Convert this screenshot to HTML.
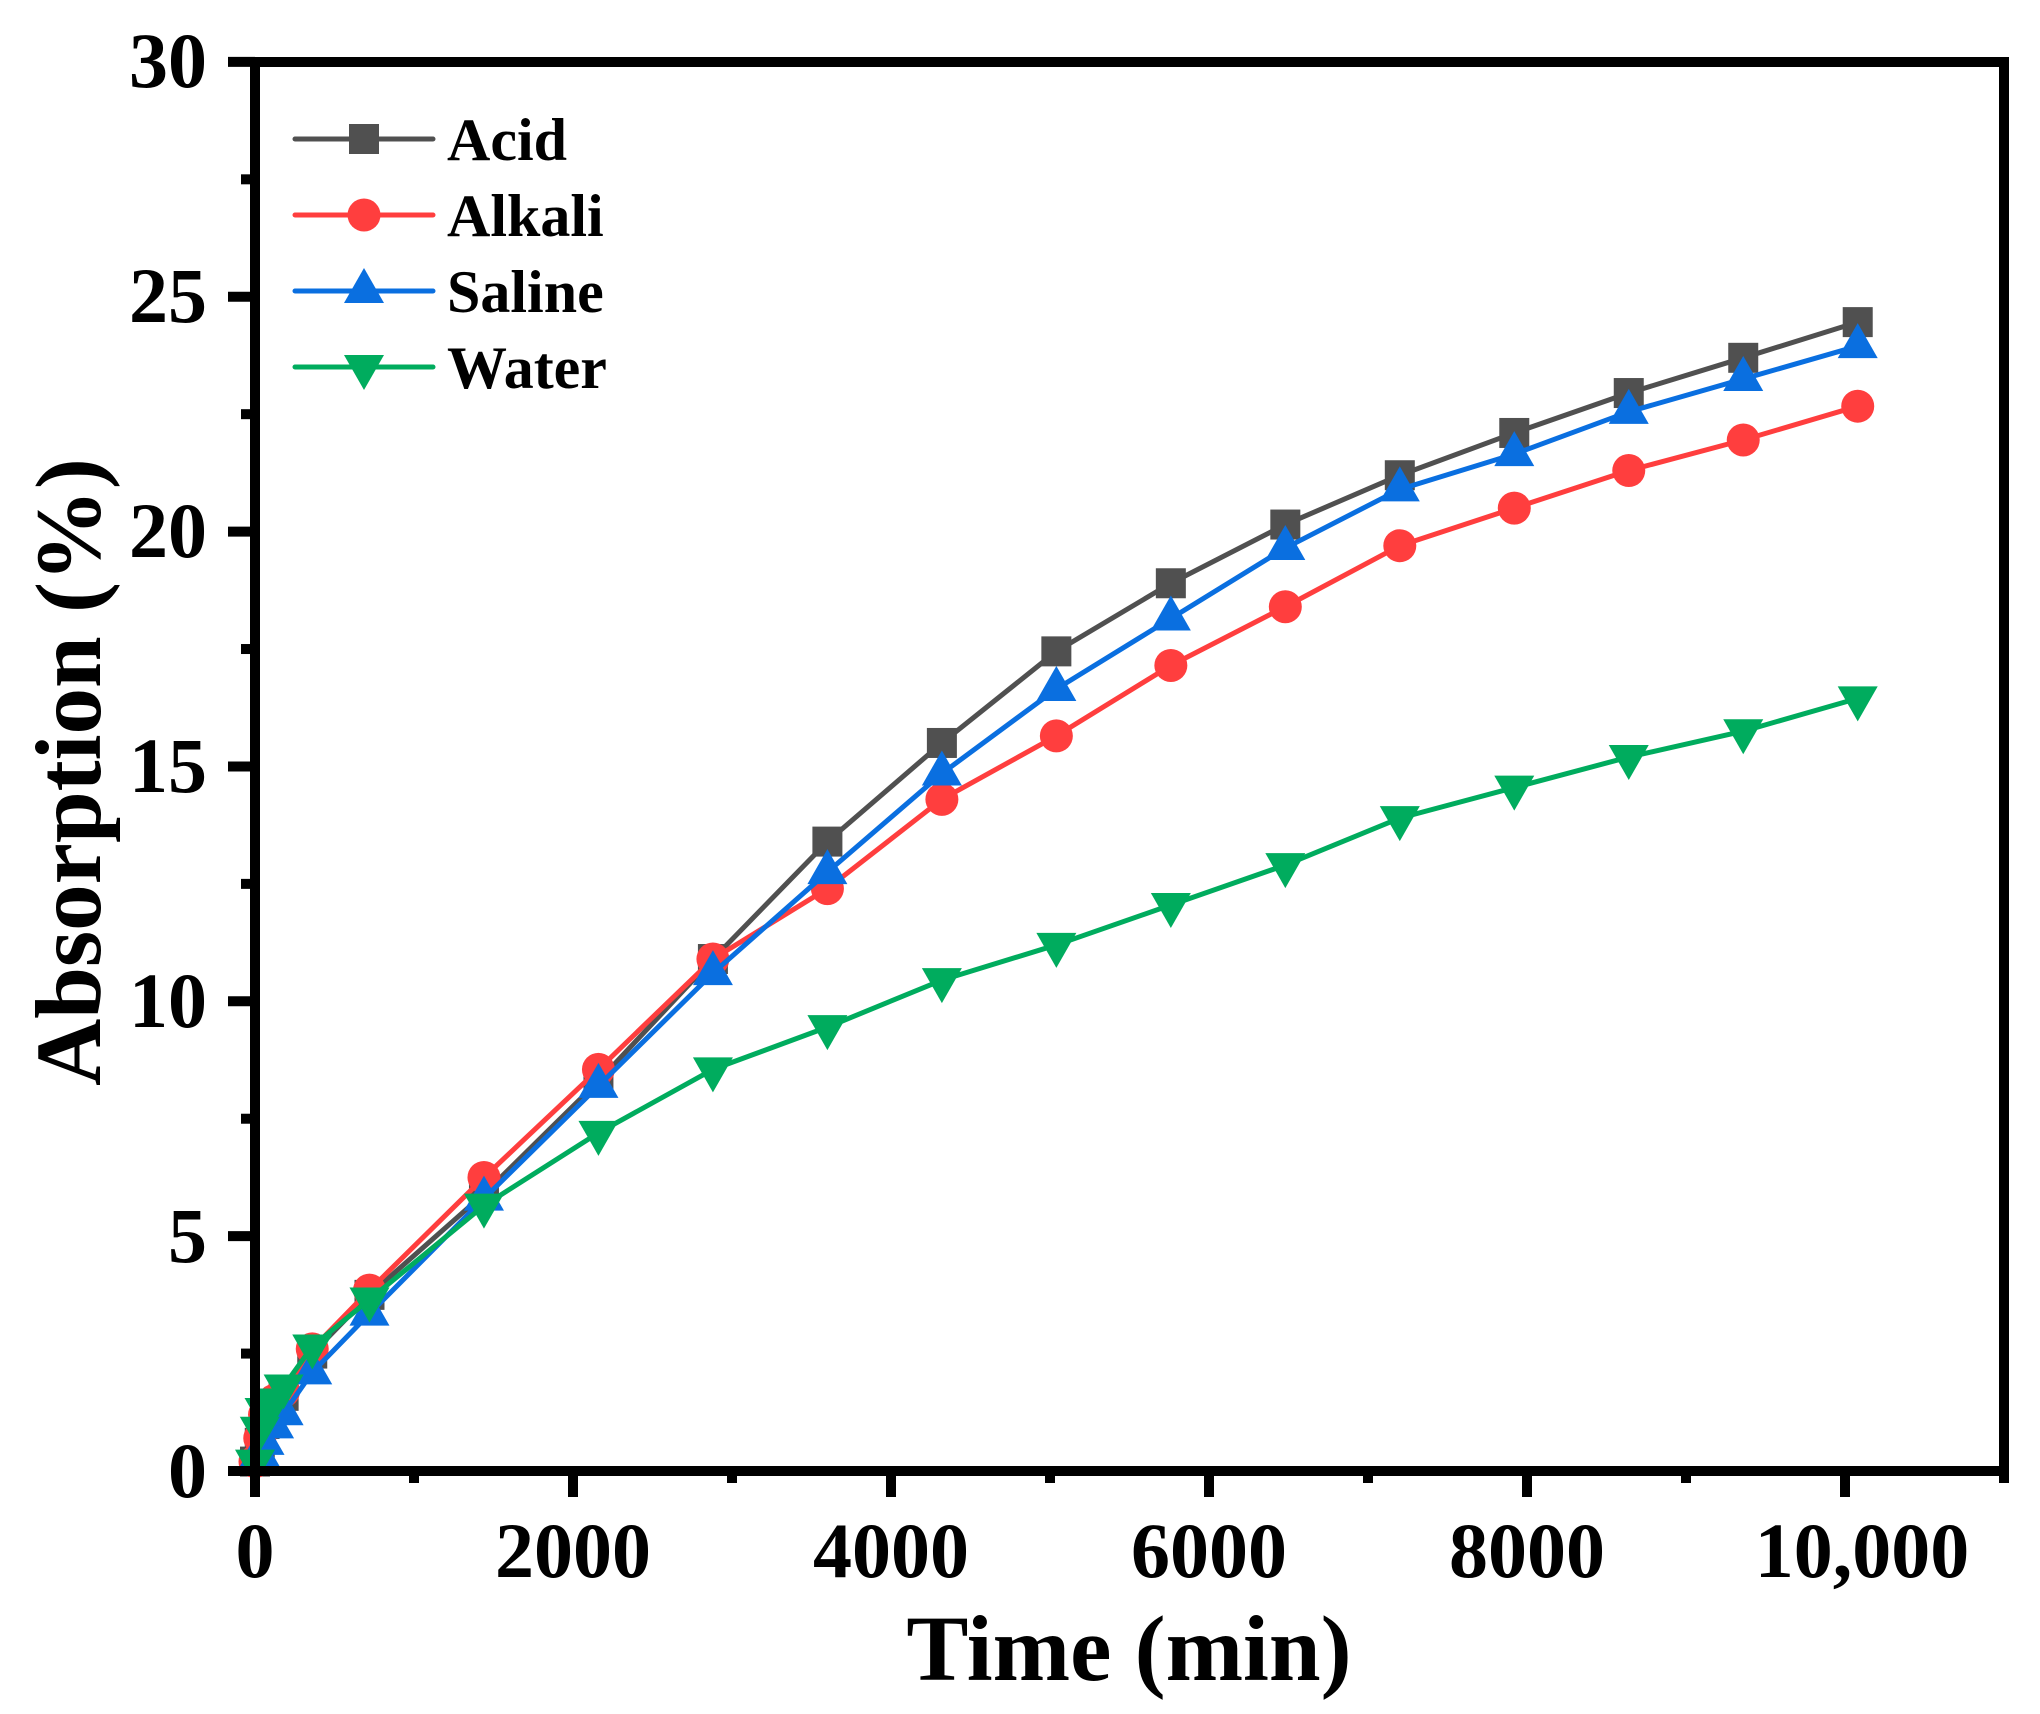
<!DOCTYPE html>
<html><head><meta charset="utf-8"><style>
html,body{margin:0;padding:0;background:#fff;}
svg{display:block;font-family:"Liberation Serif",serif;font-weight:bold;}
</style></head><body>
<svg id="s" width="2040" height="1714" viewBox="0 0 2040 1714" xmlns="http://www.w3.org/2000/svg">
<rect width="2040" height="1714" fill="#fff"/>
<g id="data"></g>
<g stroke="#000" stroke-width="10" fill="none">
<rect x="255" y="62" width="1749" height="1409"/>
</g>
<g id="ticks" stroke="#000" stroke-width="10"></g>
<g font-size="78" fill="#000" text-anchor="end">
<text x="207" y="1497">0</text>
<text x="207" y="1262">5</text>
<text x="207" y="1027">10</text>
<text x="207" y="792">15</text>
<text x="207" y="557">20</text>
<text x="207" y="322">25</text>
<text x="207" y="87">30</text>
</g>
<g font-size="78" fill="#000" text-anchor="middle">
<text x="255" y="1577">0</text>
<text x="573" y="1577">2000</text>
<text x="891" y="1577">4000</text>
<text x="1209" y="1577">6000</text>
<text x="1527" y="1577">8000</text>
<text x="1862" y="1577">10,000</text>
</g>
<text x="1129" y="1680" font-size="93" text-anchor="middle">Time (min)</text>
<text transform="translate(100,772) rotate(-90)" font-size="93" text-anchor="middle">Absorption (%)</text>
<g id="legend"></g>
<g font-size="60" fill="#000">
<text x="447" y="160">Acid</text>
<text x="447" y="236">Alkali</text>
<text x="447" y="312">Saline</text>
<text x="447" y="388">Water</text>
</g>
</svg>
<script>
var NS="http://www.w3.org/2000/svg";
function X(t){return 255+t*0.159;}
function Y(v){return 1471-v*46.97;}
function el(tag,attrs,parent){var e=document.createElementNS(NS,tag);for(var k in attrs)e.setAttribute(k,attrs[k]);parent.appendChild(e);return e;}
var tk=document.getElementById("ticks");
for(var t=0;t<=11000;t+=1000){var maj=(t%2000==0);el("line",{x1:X(t),x2:X(t),y1:1471,y2:maj?1497:1483},tk);}
for(var v=0;v<=30;v+=2.5){var maj=(v%5==0);el("line",{x1:255,x2:maj?228:241,y1:Y(v),y2:Y(v)},tk);}
var T=[0,30,60,120,180,360,720,1440,2160,2880,3600,4320,5040,5760,6480,7200,7920,8640,9360,10080];
var S=[
 {c:"#505050",m:"sq",d:[0.2,0.6,1.0,1.3,1.6,2.5,3.75,5.9,8.3,10.9,13.4,15.5,17.45,18.9,20.15,21.2,22.1,22.95,23.7,24.46]},
 {c:"#ff3e3e",m:"ci",d:[0.2,0.7,1.2,1.5,1.7,2.6,3.85,6.25,8.55,10.9,12.4,14.3,15.65,17.15,18.4,19.7,20.5,21.3,21.95,22.67]},
 {c:"#0a6fe0",m:"up",d:[0.15,0.35,0.6,0.95,1.23,2.1,3.35,5.8,8.2,10.6,12.75,14.85,16.65,18.15,19.65,20.9,21.65,22.55,23.25,23.95]},
 {c:"#00ac5e",m:"dn",d:[0.2,0.9,1.3,1.5,1.8,2.65,3.65,5.65,7.2,8.55,9.45,10.45,11.2,12.05,12.9,13.9,14.55,15.2,15.75,16.45]}
];
function marker(m,x,y,c,g){
 if(m=="sq")el("rect",{x:x-15,y:y-15,width:30,height:30,fill:c},g);
 else if(m=="ci")el("circle",{cx:x,cy:y,r:16.5,fill:c},g);
 else if(m=="up")el("polygon",{points:(x-20)+","+(y+12)+" "+(x+20)+","+(y+12)+" "+x+","+(y-23),fill:c},g);
 else el("polygon",{points:(x-20)+","+(y-12)+" "+(x+20)+","+(y-12)+" "+x+","+(y+23),fill:c},g);
}
var dg=document.getElementById("data");
S.forEach(function(s){
 var p=s.d.map(function(v,i){return X(T[i])+","+Y(v);}).join(" ");
 el("polyline",{points:p,fill:"none",stroke:s.c,"stroke-width":5,"stroke-linejoin":"round"},dg);
 s.d.forEach(function(v,i){marker(s.m,X(T[i]),Y(v),s.c,dg);});
});
var lg=document.getElementById("legend");
[139,215,291,367].forEach(function(y,i){
 el("line",{x1:295,x2:433,y1:y,y2:y,stroke:S[i].c,"stroke-width":5,"stroke-linecap":"round"},lg);
 marker(S[i].m,364,y,S[i].c,lg);
});
</script>
</body></html>
